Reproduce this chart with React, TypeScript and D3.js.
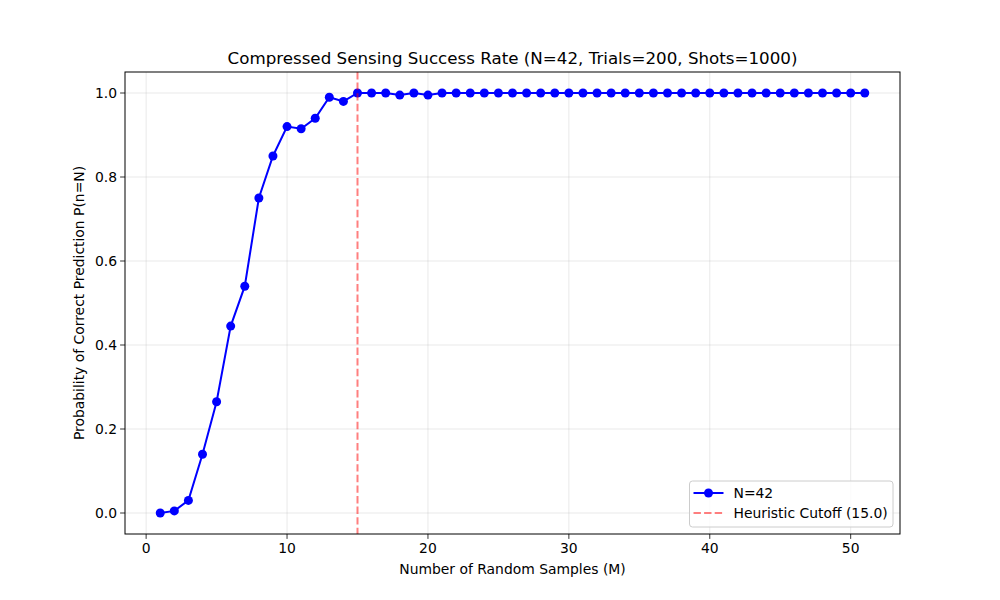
import React from "react";
import * as d3 from "d3";

const samples = d3.range(1, 52);
const successRate = [
  0.0, 0.005, 0.03, 0.14, 0.265, 0.445, 0.54, 0.75, 0.85, 0.92,
  0.915, 0.94, 0.99, 0.98, 1.0, 1.0, 1.0, 0.995, 1.0, 0.995,
  1.0, 1.0, 1.0, 1.0, 1.0, 1.0, 1.0, 1.0, 1.0, 1.0,
  1.0, 1.0, 1.0, 1.0, 1.0, 1.0, 1.0, 1.0, 1.0, 1.0,
  1.0, 1.0, 1.0, 1.0, 1.0, 1.0, 1.0, 1.0, 1.0, 1.0,
  1.0,
];
const cutoff = 15.0;
const xTicks = [0, 10, 20, 30, 40, 50];
const yTicks = [0.0, 0.2, 0.4, 0.6, 0.8, 1.0];

const width = 1000;
const height = 600;
const margin = { top: 72, right: 100, bottom: 66, left: 125 };
const font = "'DejaVu Sans', sans-serif";
const fs = 13.9;

const App = () => {
  const x = d3.scaleLinear().domain([-1.5, 53.5]).range([margin.left, width - margin.right]);
  const y = d3.scaleLinear().domain([-0.05, 1.05]).range([height - margin.bottom, margin.top]);
  const points = samples.map((m, i) => ({ m, p: successRate[i] }));

  const line = d3
    .line<{ m: number; p: number }>()
    .x((d) => x(d.m))
    .y((d) => y(d.p));

  const left = margin.left;
  const right = width - margin.right;
  const top = margin.top;
  const bottom = height - margin.bottom;

  // legend box
  const lx = 689.5;
  const ly = 481;

  return (
    <svg width={width} height={height} style={{ display: "block", margin: -8 }} fontFamily={font}>
      <rect width={width} height={height} fill="#fff" />
      {/* grid */}
      {xTicks.map((t) => (
        <line key={"gx" + t} x1={x(t)} x2={x(t)} y1={top} y2={bottom} stroke="#b0b0b0" strokeOpacity={0.35} strokeWidth={0.8} />
      ))}
      {yTicks.map((t) => (
        <line key={"gy" + t} x1={left} x2={right} y1={y(t)} y2={y(t)} stroke="#b0b0b0" strokeOpacity={0.35} strokeWidth={0.8} />
      ))}
      {/* data */}
      <path d={line(points) ?? ""} fill="none" stroke="#0000ff" strokeWidth={2} />
      {points.map((d) => (
        <circle key={d.m} cx={x(d.m)} cy={y(d.p)} r={4.5} fill="#0000ff" />
      ))}
      <line x1={x(cutoff)} x2={x(cutoff)} y1={top} y2={bottom} stroke="#ff0000" strokeOpacity={0.5} strokeWidth={2} strokeDasharray="7.4,3.2" />
      {/* frame */}
      <rect x={left} y={top} width={right - left} height={bottom - top} fill="none" stroke="#000" strokeWidth={1} />
      {/* x axis */}
      {xTicks.map((t) => (
        <g key={"xt" + t}>
          <line x1={x(t)} x2={x(t)} y1={bottom} y2={bottom + 4.9} stroke="#000" strokeWidth={0.8} />
          <text x={x(t)} y={bottom + 19} textAnchor="middle" fontSize={fs}>
            {t}
          </text>
        </g>
      ))}
      {/* y axis */}
      {yTicks.map((t) => (
        <g key={"yt" + t}>
          <line x1={left - 4.9} x2={left} y1={y(t)} y2={y(t)} stroke="#000" strokeWidth={0.8} />
          <text x={left - 8} y={y(t) + 4.8} textAnchor="end" fontSize={fs}>
            {t.toFixed(1)}
          </text>
        </g>
      ))}
      <text x={(left + right) / 2} y={574} textAnchor="middle" fontSize={fs}>
        Number of Random Samples (M)
      </text>
      <text transform={`translate(84,${(top + bottom) / 2}) rotate(-90)`} textAnchor="middle" fontSize={fs}>
        Probability of Correct Prediction P(n=N)
      </text>
      <text x={(left + right) / 2} y={64} textAnchor="middle" fontSize={16.7}>
        Compressed Sensing Success Rate (N=42, Trials=200, Shots=1000)
      </text>
      {/* legend */}
      <rect x={lx} y={ly} width={203.5} height={46} rx={3} fill="#fff" fillOpacity={0.8} stroke="#cccccc" strokeWidth={1} />
      <line x1={lx + 4} x2={lx + 34} y1={ly + 12} y2={ly + 12} stroke="#0000ff" strokeWidth={2} />
      <circle cx={lx + 19} cy={ly + 12} r={4.5} fill="#0000ff" />
      <text x={lx + 44} y={ly + 16.5} fontSize={fs}>
        N=42
      </text>
      <line x1={lx + 4} x2={lx + 34} y1={ly + 32} y2={ly + 32} stroke="#ff0000" strokeOpacity={0.5} strokeWidth={2} strokeDasharray="7.4,3.2" />
      <text x={lx + 44} y={ly + 36.5} fontSize={fs}>
        Heuristic Cutoff (15.0)
      </text>
    </svg>
  );
};

export default App;
